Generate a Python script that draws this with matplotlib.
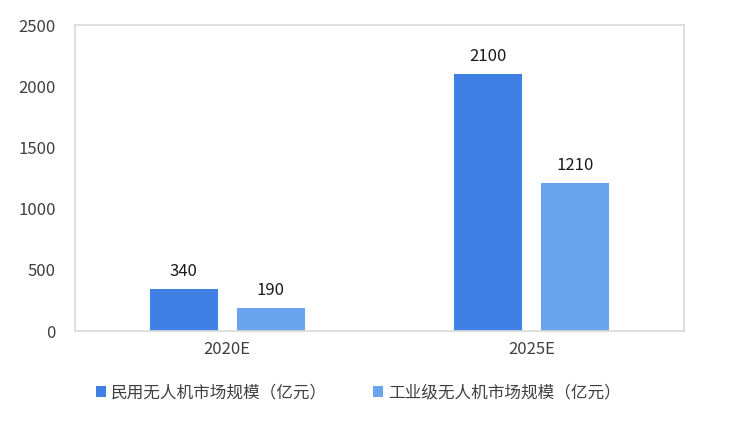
import numpy as np
import matplotlib.pyplot as plt

plt.rcParams['font.family'] = ['Noto Sans CJK SC', 'DejaVu Sans']

# data
categories = ['2020E', '2025E']
civil = [340, 2100]
industrial = [190, 1210]
series_names = ['民用无人机市场规模（亿元）', '工业级无人机市场规模（亿元）']

dark_blue = '#3f80e4'
light_blue = '#6aa3ee'
text_col = '#404040'
frame_col = '#d9d9d9'

fig = plt.figure(figsize=(7.47, 4.22), dpi=100)
ax = fig.add_axes([75 / 747, 1 - 331 / 422, 609 / 747, 306 / 422])

x = np.arange(len(categories))
w = 0.223
off = 0.1425
b1 = ax.bar(x - off, civil, w, color=dark_blue, label=series_names[0])
b2 = ax.bar(x + off, industrial, w, color=light_blue, label=series_names[1])

for bars, vals in ((b1, civil), (b2, industrial)):
    for r, v in zip(bars, vals):
        ax.text(r.get_x() + r.get_width() / 2, v + 75, str(v), ha='center',
                va='bottom', fontsize=12, color='#1a1a1a')

ax.set_xlim(-0.5, 1.5)
ax.set_ylim(0, 2500)
ax.set_yticks(np.arange(0, 2501, 500))
ax.set_xticks(x)
ax.set_xticklabels(categories)
ax.tick_params(axis='both', length=0, labelsize=12, colors=text_col)
ax.tick_params(axis='y', pad=14)
ax.tick_params(axis='x', pad=7)
for s in ax.spines.values():
    s.set_color(frame_col)
    s.set_linewidth(1.2)

fig.legend(handles=[b1, b2], labels=series_names, loc='center',
           bbox_to_anchor=(358 / 747, 1 - 393 / 422), ncol=2, frameon=False,
           fontsize=12, handlelength=0.6, handleheight=0.6, handletextpad=0.3,
           columnspacing=2.76, labelcolor=text_col)

fig.savefig('out.png', dpi=100)
